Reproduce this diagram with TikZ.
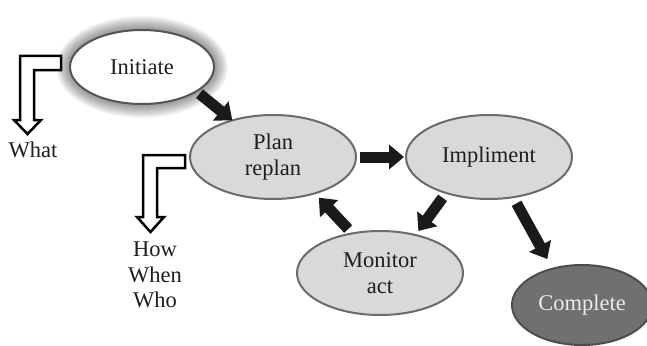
\documentclass[tikz,border=0pt]{standalone}
\usepackage{fontspec}
\setmainfont{Liberation Serif}
\usetikzlibrary{shapes.geometric,arrows.meta}
\definecolor{nodegray}{HTML}{D9D9D9}
\definecolor{edgegray}{HTML}{6B6B6B}
\definecolor{initedge}{HTML}{555555}
\definecolor{darkfill}{HTML}{707070}
\definecolor{darkedge}{HTML}{4D4D4D}
\definecolor{arrowblack}{HTML}{1A1A1A}
\definecolor{textcol}{HTML}{1E1E1E}
\begin{document}
\begin{tikzpicture}[x=1pt,y=-1pt,
  every node/.style={font=\fontsize{22.5}{25.5}\selectfont,text=textcol},
  stage/.style={ellipse,draw=edgegray,line width=2pt,fill=nodegray,inner sep=0pt,outer sep=0pt,minimum width=166pt,minimum height=84pt,align=center},
  blockarrow/.style={line width=11pt,draw=arrowblack,-{Triangle[width=24pt,length=15pt]}},
  hollow/.style={draw=black,line width=2.5pt,fill=white,line join=miter},
  sidetext/.style={align=center,inner sep=0pt}]
\useasboundingbox (0,0) rectangle (647,345);
\coordinate (ic) at (142,67);
\foreach \i in {1,...,14}
  \fill[black,opacity=0.035] (ic) ellipse [x radius={72+\i}, y radius={37+\i}];
\node[stage,fill=white,draw=initedge,minimum width=144pt,minimum height=74pt] (init) at (ic) {Initiate};
\node[stage] (plan) at (273,157) {Plan\\replan};
\node[stage] (impl) at (489,157) {Impliment};
\node[stage] (mon) at (380,273) {Monitor\\act};
\node[stage,fill=darkfill,draw=darkedge,text=white!92!black,minimum width=140pt,minimum height=80pt] (comp) at (582,305) {Complete};
\draw[blockarrow,shorten <=4pt] (init.-24) -- (plan.138);
\draw[blockarrow,shorten <=4pt,shorten >=2pt] (plan.east) -- (impl.west);
\draw[blockarrow,shorten <=6pt,shorten >=5pt] (impl.220) -- (mon.47);
\draw[blockarrow,shorten <=7pt,shorten >=11pt] (impl.-59) -- (comp.129);
\draw[blockarrow,shorten <=6pt,shorten >=6pt] (mon.125) -- (plan.-41);
\draw[hollow] (61,56) -- (20,56) -- (20,120) -- (14,120) -- (27.5,134) -- (41,120) -- (34,120) -- (34,70) -- (61,70) -- cycle;
\draw[hollow] (185,155) -- (143,155) -- (143,217) -- (137,217) -- (150.5,232) -- (164,217) -- (157,217) -- (157,168) -- (185,168) -- cycle;
\node[sidetext] (what) at (33,150) {What};
\node[sidetext] (hww) at (155,275) {How\\When\\Who};
\end{tikzpicture}
\end{document}
